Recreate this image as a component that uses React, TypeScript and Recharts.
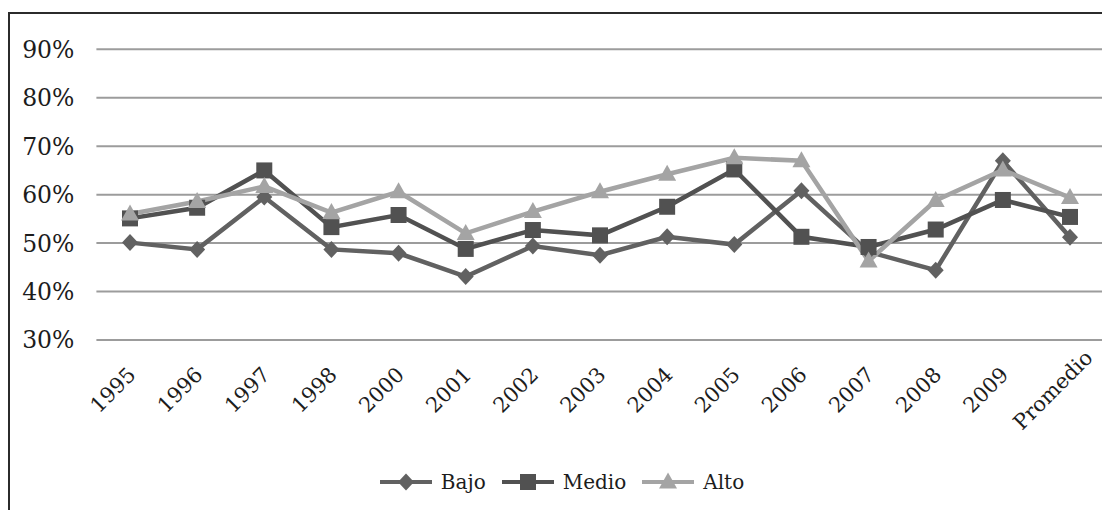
import React from 'react';
import { LineChart, Line, XAxis, YAxis, CartesianGrid, Legend } from 'recharts';

// Categories along the horizontal axis
const categories = ['1995', '1996', '1997', '1998', '2000', '2001', '2002', '2003', '2004', '2005', '2006', '2007', '2008', '2009', 'Promedio'];

// Shares (%) for each level
const bajo = [50.1, 48.7, 59.5, 48.7, 47.9, 43.1, 49.4, 47.5, 51.3, 49.7, 60.8, 48.2, 44.4, 67.0, 51.2];
const medio = [55.1, 57.3, 65.0, 53.3, 55.8, 48.8, 52.7, 51.6, 57.5, 65.2, 51.3, 49.2, 52.8, 58.9, 55.4];
const alto = [56.0, 58.6, 61.7, 56.3, 60.6, 52.0, 56.5, 60.6, 64.2, 67.6, 67.0, 46.3, 58.8, 65.1, 59.4];

const yTicks = [30, 40, 50, 60, 70, 80, 90];

const data = categories.map((c, i) => ({ cat: c, Bajo: bajo[i], Medio: medio[i], Alto: alto[i] }));

const FONT = '"DejaVu Serif", serif';
const TEXT = '#1c1c1c';
const C_BAJO = '#616161';
const C_MEDIO = '#515151';
const C_ALTO = '#a4a4a4';

type Shape = 'diamond' | 'square' | 'triangle';

function marker(shape: Shape, cx: number, cy: number, fill: string, key?: React.Key) {
  if (shape === 'diamond') {
    return <path key={key} d={`M${cx},${cy - 8.5}L${cx + 8},${cy}L${cx},${cy + 8.5}L${cx - 8},${cy}Z`} fill={fill} />;
  }
  if (shape === 'square') {
    return <rect key={key} x={cx - 8} y={cy - 8} width={16} height={16} fill={fill} />;
  }
  return <path key={key} d={`M${cx},${cy - 9.5}L${cx + 9},${cy + 6.5}L${cx - 9},${cy + 6.5}Z`} fill={fill} />;
}

const makeDot = (shape: Shape, fill: string) => (props: any) => {
  const { cx, cy, index } = props;
  if (cx == null || cy == null) return <g key={`e-${index}`} />;
  return marker(shape, cx, cy, fill, `${shape}-${index}`);
};

const XTick = (props: any) => {
  const { x, y, payload } = props;
  const cx = x - 12;
  const cy = y + 55;
  return (
    <text x={cx} y={cy} transform={`rotate(-45 ${cx} ${cy})`} textAnchor="middle" fill={TEXT} fontFamily={FONT} fontSize={21}>
      {payload.value}
    </text>
  );
};

const YTick = (props: any) => {
  const { x, y, payload } = props;
  return (
    <text x={x - 22} y={y} dy="0.36em" textAnchor="end" fill={TEXT} fontFamily={FONT} fontSize={23.5}>
      {`${payload.value}%`}
    </text>
  );
};

const legendItems: { name: string; color: string; shape: Shape }[] = [
  { name: 'Bajo', color: C_BAJO, shape: 'diamond' },
  { name: 'Medio', color: C_MEDIO, shape: 'square' },
  { name: 'Alto', color: C_ALTO, shape: 'triangle' },
];

const LegendContent = () => (
  <div style={{ display: 'flex', justifyContent: 'center', alignItems: 'center', height: 30, width: 1100, paddingLeft: 4, boxSizing: 'border-box' }}>
    {legendItems.map((it, i) => (
      <div key={it.name} style={{ display: 'flex', alignItems: 'center', marginLeft: i === 0 ? 0 : 16 }}>
        <svg width={52} height={20} style={{ display: 'block' }}>
          <line x1={0} y1={10} x2={52} y2={10} stroke={it.color} strokeWidth={4} />
          {marker(it.shape, 26, 10, it.color)}
        </svg>
        <span style={{ marginLeft: 9, fontFamily: FONT, fontSize: 20, color: TEXT, lineHeight: '30px' }}>{it.name}</span>
      </div>
    ))}
  </div>
);

export default function App() {
  return (
    <div
      style={{
        position: 'fixed',
        left: 8,
        top: 12,
        width: 1094,
        height: 498,
        borderTop: '2px solid #2b2b2b',
        borderLeft: '2px solid #2b2b2b',
        boxSizing: 'border-box',
        overflow: 'hidden',
        background: '#fff',
      }}
    >
      <LineChart width={1100} height={496} data={data} margin={{ top: 35.3, right: 6.4, left: 0, bottom: 30 }}>
        <CartesianGrid horizontal vertical={false} stroke="#9c9c9c" strokeWidth={2} />
        <XAxis
          dataKey="cat"
          interval={0}
          axisLine={false}
          tickLine={false}
          tickSize={0}
          tickMargin={0}
          height={110}
          padding={{ left: 33.6, right: 33.6 }}
          tick={<XTick />}
        />
        <YAxis
          width={86.4}
          domain={[30, 90]}
          ticks={yTicks}
          allowDataOverflow
          axisLine={false}
          tickLine={false}
          tickSize={0}
          tickMargin={0}
          tick={<YTick />}
        />
        <Legend verticalAlign="bottom" content={<LegendContent />} wrapperStyle={{ top: 453, left: 0, width: 1100, height: 30 }} />
        <Line type="linear" dataKey="Bajo" stroke={C_BAJO} strokeWidth={4.5} dot={makeDot('diamond', C_BAJO)} activeDot={false} isAnimationActive={false} />
        <Line type="linear" dataKey="Medio" stroke={C_MEDIO} strokeWidth={4.5} dot={makeDot('square', C_MEDIO)} activeDot={false} isAnimationActive={false} />
        <Line type="linear" dataKey="Alto" stroke={C_ALTO} strokeWidth={4.5} dot={makeDot('triangle', C_ALTO)} activeDot={false} isAnimationActive={false} />
      </LineChart>
    </div>
  );
}
